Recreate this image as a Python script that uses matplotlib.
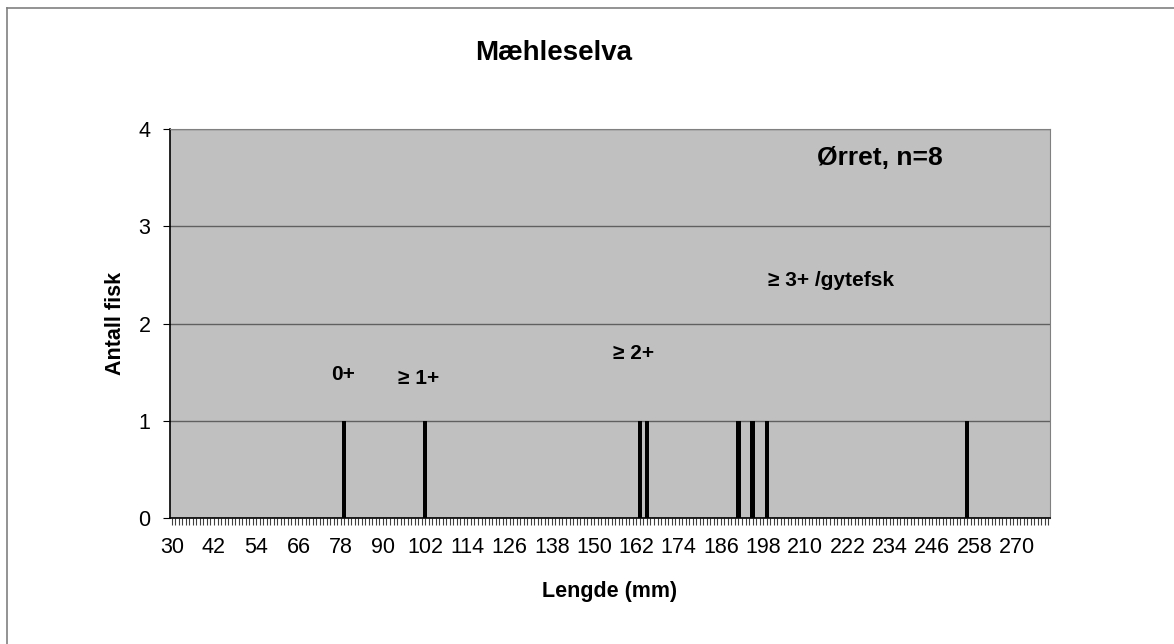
import numpy as np
import matplotlib
matplotlib.use("Agg")
import matplotlib.pyplot as plt
from matplotlib.lines import Line2D
from matplotlib.ticker import MultipleLocator

# fish lengths (mm) and counts
lengths = [79, 102, 163, 165, 191, 195, 199, 256]
counts = [1, 1, 1, 1, 1, 1, 1, 1]
x_min, x_max = 30, 279
tick_labels = list(range(30, 271, 12))

# age group labels (length mm, count)
groups = ["0+", "\u2265 1+", "\u2265 2+", "\u2265 3+ /gytefsk"]
group_x = [78.6, 100.0, 161.3, 217.3]
group_y = [1.48, 1.43, 1.69, 2.44]

plt.rcParams['font.family'] = ['Liberation Sans', 'DejaVu Sans']

fig = plt.figure(figsize=(11.74, 6.44), dpi=100)
ax = fig.add_axes([170 / 1174, 1 - 518 / 644, 880 / 1174, 389 / 644])
ax.set_facecolor("#C0C0C0")

ax.bar(lengths, counts, width=1.2, color="black", zorder=3)

ax.set_xlim(x_min - 0.5, x_max + 0.5)
ax.set_ylim(0, 4)
ax.set_yticks([0, 1, 2, 3, 4])
ax.set_xticks(tick_labels)
ax.xaxis.set_minor_locator(MultipleLocator(1))
ax.yaxis.grid(True, color="#606060", linewidth=1.0, zorder=1)
ax.set_axisbelow(True)

ax.tick_params(axis="x", which="both", direction="out", length=5, width=0.8,
               color="#404040", labelsize=15.5, pad=9)
ax.tick_params(axis="y", which="major", direction="out", length=5, width=0.8,
               labelsize=15.5, pad=9)

for s in ["top", "right"]:
    ax.spines[s].set_color("#808080")
for s in ["left", "bottom"]:
    ax.spines[s].set_color("black")
    ax.spines[s].set_linewidth(1.2)

ax.set_xlabel("Lengde (mm)", fontsize=15.5, fontweight="bold", labelpad=16)
ax.set_ylabel("Antall fisk", fontsize=15.5, fontweight="bold", labelpad=9)
fig.text(554 / 1174, 1 - 53 / 644, "M\u00e6hleselva", fontsize=20, fontweight="bold",
         ha="center", va="center")

ax.text(231.2, 3.70, "\u00d8rret, n=8", fontsize=19, fontweight="bold",
        ha="center", va="center")
for g, gx, gy in zip(groups, group_x, group_y):
    ax.text(gx, gy, g, fontsize=15, fontweight="bold", ha="center", va="center",
            family=['Liberation Sans', 'DejaVu Sans'])

# outer chart border (top and left visible)
fig.add_artist(Line2D([7 / 1174, 7 / 1174], [0, 1 - 8 / 644], color="#808080", lw=1.2))
fig.add_artist(Line2D([7 / 1174, 1], [1 - 8 / 644, 1 - 8 / 644], color="#808080", lw=1.2))

fig.savefig("out.png", dpi=100)
